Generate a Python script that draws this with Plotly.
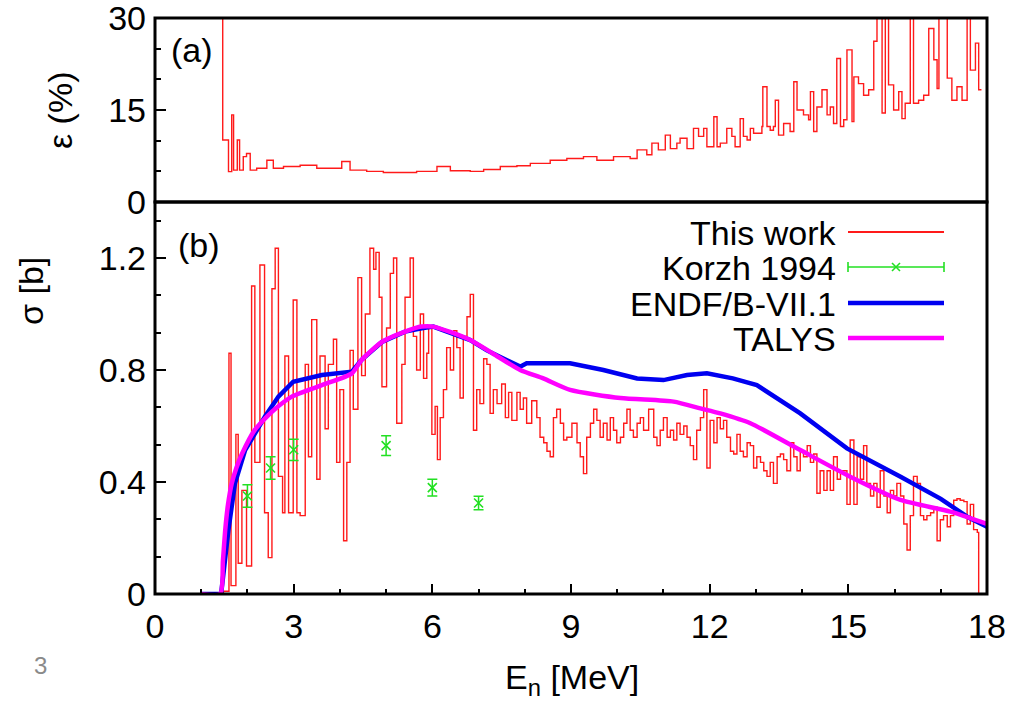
import plotly.graph_objects as go

# ---------------- data ----------------
# (a) relative uncertainty of this work, epsilon (%)
E_eps = [1.44, 1.465, 1.59, 1.66, 1.70, 1.78, 1.83, 1.91, 1.98, 2.06,
         2.20, 2.42, 2.56, 2.78, 3.14, 3.50, 4.04, 4.22, 4.58, 4.94,
         5.30, 5.66, 6.10, 6.39, 6.82, 7.11, 7.47, 7.83, 8.12, 8.55,
         8.91, 9.27, 9.56, 9.92, 10.28, 10.43, 10.64, 10.75, 10.89, 11.04,
         11.15, 11.29, 11.36, 11.51, 11.65, 11.76, 11.87, 11.94, 12.09, 12.16,
         12.23, 12.37, 12.48, 12.55, 12.66, 12.73, 12.81, 12.88, 12.95, 13.13,
         13.15, 13.24, 13.31, 13.38, 13.42, 13.49, 13.60, 13.74, 13.82, 13.89,
         14.03, 14.14, 14.18, 14.25, 14.32, 14.43, 14.54, 14.61, 14.68, 14.75,
         14.83, 14.90, 14.97, 15.08, 15.12, 15.22, 15.33, 15.44, 15.55, 15.62,
         15.73, 15.80, 15.87, 15.98, 16.09, 16.16, 16.23, 16.34, 16.41, 16.52,
         16.63, 16.74, 16.85, 16.92, 16.96, 17.14, 17.24, 17.35, 17.46, 17.57,
         17.64, 17.75, 17.82, 17.88]
eps = [40, 10.1, 4.95, 14.2, 5.2, 10.1, 5.2, 7.4, 7.9, 5.2,
       5.5, 6.8, 5.5, 5.8, 6.0, 5.5, 6.6, 5.2, 5.0, 4.8,
       4.8, 5.0, 5.8, 5.1, 5.0, 5.3, 5.8, 5.9, 6.3, 6.8,
       7.1, 7.4, 6.8, 7.4, 7.1, 8.5, 7.7, 9.6, 8.5, 10.9,
       8.7, 9.6, 10.4, 8.7, 12.0, 10.7, 12.0, 9.0, 13.9, 9.0,
       9.6, 12.0, 10.7, 9.0, 13.6, 10.7, 10.1, 12.0, 11.2, 12.3,
       18.8, 12.3, 11.7, 12.3, 16.6, 10.9, 12.8, 11.5, 19.6, 15.0,
       14.2, 13.4, 18.0, 11.5, 15.5, 18.3, 14.2, 15.5, 12.8, 23.4,
       12.3, 13.4, 24.8, 13.1, 20.4, 19.3, 17.4, 18.3, 26.2, 40,
       14.5, 40, 19.1, 15.0, 18.0, 13.6, 16.1, 40, 16.1, 16.6,
       17.4, 28.3, 23.2, 18.5, 40, 20.2, 16.6, 18.8, 16.6, 40,
       21.5, 25.9, 18.3, 18.3]

# (b) cross section of this work, sigma [b]
E_sig = [1.45, 1.48, 1.60, 1.645, 1.75, 1.80, 1.88, 1.98, 2.09, 2.16,
         2.27, 2.37, 2.45, 2.53, 2.60, 2.67, 2.76, 2.81, 2.89, 2.99,
         3.07, 3.14, 3.25, 3.32, 3.39, 3.50, 3.57, 3.68, 3.75, 3.86,
         3.93, 4.00, 4.08, 4.15, 4.22, 4.29, 4.39, 4.47, 4.55, 4.65,
         4.73, 4.78, 4.85, 4.91, 5.01, 5.09, 5.16, 5.23, 5.34, 5.41,
         5.52, 5.59, 5.66, 5.74, 5.81, 5.88, 5.92, 5.99, 6.06, 6.11,
         6.17, 6.24, 6.31, 6.39, 6.46, 6.53, 6.60, 6.67, 6.75, 6.82,
         6.89, 6.96, 7.03, 7.11, 7.18, 7.25, 7.32, 7.40, 7.50, 7.58,
         7.65, 7.72, 7.83, 7.90, 7.97, 8.04, 8.15, 8.26, 8.33, 8.41,
         8.48, 8.55, 8.62, 8.69, 8.77, 8.84, 8.91, 9.02, 9.13, 9.20,
         9.27, 9.34, 9.42, 9.49, 9.56, 9.63, 9.70, 9.78, 9.85, 9.92,
         9.99, 10.07, 10.14, 10.21, 10.28, 10.35, 10.43, 10.50, 10.57, 10.68,
         10.79, 10.86, 10.93, 11.00, 11.08, 11.15, 11.22, 11.29, 11.36, 11.44,
         11.51, 11.58, 11.65, 11.72, 11.80, 11.87, 11.94, 12.01, 12.09, 12.16,
         12.23, 12.30, 12.37, 12.45, 12.52, 12.59, 12.66, 12.73, 12.81, 12.88,
         12.95, 13.02, 13.10, 13.17, 13.24, 13.31, 13.38, 13.46, 13.53, 13.60,
         13.67, 13.75, 13.82, 13.89, 13.96, 14.03, 14.11, 14.18, 14.25, 14.32,
         14.39, 14.47, 14.54, 14.61, 14.68, 14.76, 14.83, 14.97, 15.04, 15.12,
         15.19, 15.26, 15.33, 15.40, 15.48, 15.55, 15.62, 15.69, 15.77, 15.84,
         15.91, 15.98, 16.05, 16.13, 16.20, 16.27, 16.34, 16.41, 16.49, 16.56,
         16.63, 16.70, 16.78, 16.85, 16.92, 16.99, 17.06, 17.14, 17.21, 17.28,
         17.35, 17.42, 17.50, 17.57, 17.64, 17.71, 17.79, 17.82]
sig = [0.0, 0.01, 0.86, 0.03, 0.57, 0.11, 0.37, 0.10, 1.10, 0.47,
       1.175, 0.29, 0.13, 1.09, 1.235, 0.42, 0.29, 0.85, 0.29, 1.05,
       0.29, 0.28, 0.82, 0.49, 0.98, 0.41, 0.85, 0.59, 0.82, 0.91,
       0.47, 0.73, 0.19, 0.47, 0.87, 0.66, 1.13, 0.78, 1.00, 1.235,
       1.16, 1.22, 1.06, 0.74, 0.95, 1.145, 1.20, 0.61, 0.82, 1.06,
       1.20, 0.92, 0.80, 1.00, 0.77, 0.86, 0.955, 0.57, 0.67, 0.48,
       0.63, 0.73, 0.88, 0.80, 0.94, 0.88, 0.70, 0.92, 0.99, 1.07,
       0.585, 0.73, 0.68, 0.84, 0.82, 0.645, 0.73, 0.68, 0.75, 0.63,
       0.72, 0.62, 0.72, 0.66, 0.70, 0.61, 0.69, 0.63, 0.56, 0.54,
       0.51, 0.49, 0.63, 0.66, 0.61, 0.55, 0.56, 0.61, 0.54, 0.49,
       0.43, 0.56, 0.61, 0.66, 0.62, 0.56, 0.61, 0.55, 0.63, 0.585,
       0.54, 0.56, 0.61, 0.66, 0.585, 0.56, 0.61, 0.63, 0.585, 0.66,
       0.56, 0.53, 0.585, 0.63, 0.56, 0.585, 0.55, 0.61, 0.57, 0.60,
       0.56, 0.53, 0.48, 0.585, 0.63, 0.73, 0.45, 0.62, 0.54, 0.63,
       0.59, 0.62, 0.56, 0.51, 0.50, 0.57, 0.51, 0.49, 0.54, 0.53,
       0.45, 0.49, 0.47, 0.44, 0.42, 0.47, 0.395, 0.49, 0.50, 0.48,
       0.44, 0.54, 0.49, 0.44, 0.51, 0.49, 0.53, 0.47, 0.50, 0.36,
       0.44, 0.37, 0.44, 0.37, 0.49, 0.41, 0.44, 0.32, 0.55, 0.32,
       0.49, 0.41, 0.53, 0.395, 0.35, 0.395, 0.31, 0.44, 0.35, 0.29,
       0.37, 0.35, 0.395, 0.35, 0.25, 0.157, 0.28, 0.42, 0.395, 0.28,
       0.265, 0.28, 0.29, 0.31, 0.19, 0.265, 0.28, 0.24, 0.28, 0.335,
       0.34, 0.335, 0.33, 0.25, 0.32, 0.23, 0.22, 0.0]

# Korzh 1994
E_korzh = [2.0, 2.5, 3.0, 5.0, 6.0, 7.0]
sig_korzh = [0.35, 0.45, 0.515, 0.53, 0.38, 0.325]
err_korzh = [0.04, 0.04, 0.038, 0.035, 0.03, 0.024]

# ENDF/B-VII.1
E_endf = [1.0, 1.43, 1.50, 1.59, 1.73, 1.95, 2.38, 2.67, 2.99, 3.61,
          4.26, 4.47, 4.91, 5.41, 5.77, 6.02, 6.82, 7.18, 7.90, 8.04,
          8.98, 9.70, 10.43, 11.0, 11.51, 11.94, 12.5, 13.02, 13.96, 14.97,
          16.13, 17.0, 17.57, 18.0]
sig_endf = [0.0, 0.0, 0.10, 0.23, 0.395, 0.514, 0.634, 0.705, 0.758, 0.782,
            0.794, 0.836, 0.90, 0.937, 0.949, 0.955, 0.907, 0.87, 0.812, 0.824,
            0.824, 0.80, 0.77, 0.764, 0.782, 0.788, 0.77, 0.746, 0.645, 0.52,
            0.419, 0.34, 0.276, 0.24]

# TALYS
E_talys = [1.0, 1.41, 1.47, 1.52, 1.58, 1.66, 1.76, 1.88, 2.16, 2.53,
           2.96, 3.61, 4.26, 4.47, 4.91, 5.41, 5.77, 6.02, 6.4, 6.82,
           7.3, 7.90, 8.4, 8.98, 10.07, 11.22, 11.80, 12.23, 12.88, 13.96,
           15.04, 16.13, 17.21, 18.0]
sig_talys = [0.0, 0.0, 0.12, 0.23, 0.32, 0.395, 0.45, 0.50, 0.586, 0.651,
             0.705, 0.746, 0.788, 0.836, 0.90, 0.937, 0.955, 0.955, 0.935, 0.907,
             0.86, 0.80, 0.77, 0.729, 0.70, 0.687, 0.663, 0.645, 0.61, 0.514,
             0.419, 0.336, 0.294, 0.25]

x_ticks = [0, 3, 6, 9, 12, 15, 18]
eps_ticks = [0, 15, 30]
sig_ticks = [0, 0.4, 0.8, 1.2]
sig_tick_text = ["0", "0.4", "0.8", "1.2"]
legend_names = ["This work", "Korzh 1994", "ENDF/B-VII.1", "TALYS"]

# ---------------- layout geometry (pixels) ----------------
W, H = 1011, 705
L, R, T, B, MID = 155, 987, 18, 594, 202
split = (B - MID) / (B - T)
FONT = "Liberation Sans, Arial, Helvetica, sans-serif"
FS = 34

RED, GREEN, BLUE, MAG = "#ff1a1a", "#22e022", "#0000f0", "#ff00ff"


def px(x):
    return (x - L) / (R - L)


def py(y):
    return (B - y) / (B - T)


fig = go.Figure()

# top panel
fig.add_trace(go.Scatter(x=E_eps, y=eps, mode="lines", line=dict(color=RED, width=1.4, shape="hv"),
                         xaxis="x2", yaxis="y2", showlegend=False, hoverinfo="skip"))
# bottom panel
fig.add_trace(go.Scatter(x=E_sig, y=sig, mode="lines", line=dict(color=RED, width=1.4, shape="hv"),
                         name=legend_names[0], showlegend=False))
fig.add_trace(go.Scatter(x=E_korzh, y=sig_korzh, mode="markers",
                         marker=dict(symbol="x-thin", size=9, line=dict(color=GREEN, width=1.6), color=GREEN),
                         error_y=dict(type="data", array=err_korzh, color=GREEN, thickness=1.5, width=5),
                         name=legend_names[1], showlegend=False))
fig.add_trace(go.Scatter(x=E_endf, y=sig_endf, mode="lines", line=dict(color=BLUE, width=4.5),
                         name=legend_names[2], showlegend=False))
fig.add_trace(go.Scatter(x=E_talys, y=sig_talys, mode="lines",
                         line=dict(color=MAG, width=4.5, shape="spline", smoothing=0.6),
                         name=legend_names[3], showlegend=False))

tickfont = dict(family=FONT, size=FS, color="black")
ax_common = dict(showgrid=False, zeroline=False, showline=False, tickcolor="black", tickfont=tickfont,
                 ticklabeloverflow="allow", automargin=False)

fig.update_layout(
    width=W, height=H, autosize=False,
    margin=dict(l=L, r=W - R, t=T, b=H - B, pad=0, autoexpand=False),
    paper_bgcolor="white", plot_bgcolor="white",
    font=dict(family=FONT, size=FS, color="black"),
    xaxis=dict(domain=[0, 1], anchor="y", range=[0, 18], tickvals=x_ticks,
               ticks="inside", ticklen=10, tickwidth=2, ticklabelstandoff=9,
               minor=dict(dtick=1, tick0=0, ticks="inside", ticklen=5, tickwidth=2, tickcolor="black"),
               **ax_common),
    yaxis=dict(domain=[0, split], anchor="x", range=[0, 1.4], tickvals=sig_ticks, ticktext=sig_tick_text,
               ticks="inside", ticklen=11, tickwidth=2, ticklabelstandoff=8,
               minor=dict(dtick=0.4 / 3, tick0=0, ticks="inside", ticklen=6, tickwidth=2, tickcolor="black"),
               **ax_common),
    xaxis2=dict(domain=[0, 1], anchor="y2", range=[0, 18], matches="x", showticklabels=False,
                ticks="", **ax_common),
    yaxis2=dict(domain=[split, 1], anchor="x2", range=[0, 30], tickvals=eps_ticks,
                ticks="inside", ticklen=11, tickwidth=2, ticklabelstandoff=8,
                minor=dict(dtick=5, tick0=0, ticks="inside", ticklen=6, tickwidth=2, tickcolor="black"),
                **ax_common),
)

ann = []


def text(x, y, s, size=FS, angle=0, xanchor="center", color="black"):
    ann.append(dict(x=px(x), y=py(y), xref="paper", yref="paper", text=s, showarrow=False,
                    xanchor=xanchor, yanchor="middle", textangle=angle,
                    font=dict(family=FONT, size=size, color=color)))


text(60, 111, "ε (%)", angle=-90)
text(31, 291, "σ [b]", angle=-90)
text(572, 679, "E<sub>n</sub> [MeV]")
text(192, 50, "(a)")
text(199, 245, "(b)")
text(40, 665, "3", size=24, color="#8a8a8a")

rows = [232, 267, 303, 338]
for name, yy in zip(legend_names, rows):
    text(838, yy + 1, name, xanchor="right")

shapes = []
# panel frames
for ytop, ybot in ((T, MID), (MID, B)):
    shapes.append(dict(type="rect", xref="paper", yref="paper", x0=px(L), x1=px(R), y0=py(ybot), y1=py(ytop),
                       line=dict(color="black", width=3), fillcolor="rgba(0,0,0,0)", layer="above"))
x0, x1 = 848, 944
colors = [RED, GREEN, BLUE, MAG]
widths = [2, 1.6, 4.5, 4.5]
for c, w, yy in zip(colors, widths, rows):
    shapes.append(dict(type="line", xref="paper", yref="paper", x0=px(x0), x1=px(x1), y0=py(yy), y1=py(yy),
                       line=dict(color=c, width=w)))
# Korzh legend caps and cross
yk = rows[1]
for xc in (x0, x1):
    shapes.append(dict(type="line", xref="paper", yref="paper", x0=px(xc), x1=px(xc),
                       y0=py(yk - 5), y1=py(yk + 5), line=dict(color=GREEN, width=1.6)))
xm = (x0 + x1) / 2
for d in (1, -1):
    shapes.append(dict(type="line", xref="paper", yref="paper", x0=px(xm - 4), x1=px(xm + 4),
                       y0=py(yk - 4 * d), y1=py(yk + 4 * d), line=dict(color=GREEN, width=1.6)))

fig.update_layout(annotations=ann, shapes=shapes)

fig.write_html("out.html", config={"displayModeBar": False, "responsive": False},
               post_script="document.body.style.margin='0px';document.body.style.overflow='hidden';")
